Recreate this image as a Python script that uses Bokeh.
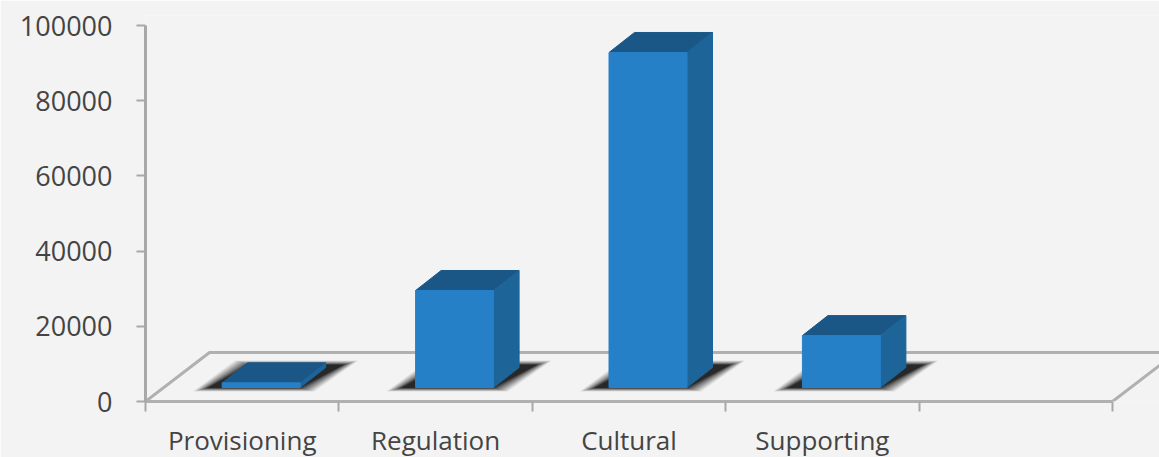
from bokeh.embed import file_html
from bokeh.models import (BasicTickFormatter, ColumnDataSource, FixedTicker, LinearAxis,
                          Range1d)
from bokeh.plotting import figure
from bokeh.resources import INLINE

# Benefit categories and their totals
categories = ["Provisioning", "Regulation", "Cultural", "Supporting"]
values = [1250, 25800, 89100, 13800]
y_ticks = [0, 20000, 40000, 60000, 80000, 100000]

WIDTH, HEIGHT = 1159, 457
LEFT, TOP, BOTTOM = 145, 15, 56
SLOT_PX = 193.4          # width of one category slot
VALUE_PX = 376 / 100000  # pixels per unit of value
SLOTS = 5

BG = "#f3f3f3"
FRONT, SIDE, CAP = "#2680c8", "#1d6499", "#1a5787"
AXIS, TEXT = "#a8a8a8", "#444444"
FONT = "Open Sans"


def dx(px):
    return px / SLOT_PX


def dy(px):
    return px / VALUE_PX


x_end = (WIDTH - LEFT) / SLOT_PX
y_end = (HEIGHT - BOTTOM - TOP) / VALUE_PX

p = figure(width=WIDTH, height=HEIGHT, output_backend="svg", toolbar_location=None,
           x_range=Range1d(0, x_end), y_range=Range1d(0, y_end),
           x_axis_location=None, y_axis_location=None,
           frame_width=WIDTH - LEFT, frame_height=HEIGHT - TOP - BOTTOM,
           min_border_left=LEFT, min_border_right=0, min_border_top=TOP,
           min_border_bottom=0, background_fill_color=BG, border_fill_color=BG,
           outline_line_color=None)
p.grid.visible = False

# Floor of the 3D box: back edge and the two receding sides
floor_x, floor_y = dx(64), dy(49)
p.line([0, floor_x, SLOTS + floor_x, SLOTS], [0, floor_y, floor_y, 0],
       line_color="#b0b0b0", line_width=3)

# Value axis
y_axis = LinearAxis(ticker=FixedTicker(ticks=y_ticks), bounds=(0, 100000),
                    formatter=BasicTickFormatter(use_scientific=False))
y_axis.axis_line_color = AXIS
y_axis.axis_line_width = 3
y_axis.major_tick_line_color = AXIS
y_axis.major_tick_line_width = 2
y_axis.major_tick_out = 9
y_axis.major_tick_in = 0
y_axis.minor_tick_line_color = None
y_axis.major_label_standoff = 24
y_axis.major_label_text_font = FONT
y_axis.major_label_text_font_size = "27px"
y_axis.major_label_text_color = TEXT
p.add_layout(y_axis, "left")

# Category names centred in their slots, with slot separators as minor ticks
label_ticks = [i + 0.5 for i in range(len(categories))]
x_axis = LinearAxis(ticker=FixedTicker(ticks=label_ticks, minor_ticks=list(range(SLOTS + 1))),
                    major_label_overrides=dict(zip(label_ticks, categories)),
                    bounds=(0, SLOTS))
x_axis.axis_line_color = "#b0b0b0"
x_axis.axis_line_width = 3
x_axis.major_tick_line_color = None
x_axis.minor_tick_line_color = AXIS
x_axis.minor_tick_line_width = 2
x_axis.minor_tick_out = 10
x_axis.minor_tick_in = 0
x_axis.major_label_standoff = 10
x_axis.major_label_text_font = FONT
x_axis.major_label_text_font_size = "26px"
x_axis.major_label_text_color = TEXT
p.add_layout(x_axis, "below")

# Bar geometry
base = dy(14)
half = dx(39)
shift = dx(19)
depth_x, depth_y = dx(25.5), dy(20)

# Soft cast shadows: stacked parallelograms whose opacity builds up evenly
LAYERS = 10
for layer in range(LAYERS):
    inset = layer * 1.6
    xs, ys = [], []
    for i in range(len(categories)):
        x0 = i + 0.5 + shift - half
        x1 = i + 0.5 + shift + half
        low, high = dy(10 + inset * 0.25), dy(41 - inset * 0.3)
        xs.append([x0 - dx(29 - inset), x1 + dx(14 - inset),
                   x1 + dx(58 - inset), x0 + dx(13 + inset)])
        ys.append([low, low, high, high])
    p.patches(xs, ys, fill_color="#262626", fill_alpha=0.9 / (LAYERS - layer), line_color=None)

# Bars: cap, side and front faces
cap_xs, cap_ys, side_xs, side_ys, front_xs, front_ys = [], [], [], [], [], []
for i, v in enumerate(values):
    x0 = i + 0.5 + shift - half
    x1 = i + 0.5 + shift + half
    top = base + v
    cap_xs.append([x0, x1, x1 + depth_x, x0 + depth_x])
    cap_ys.append([top, top, top + depth_y, top + depth_y])
    side_xs.append([x1, x1 + depth_x, x1 + depth_x, x1])
    side_ys.append([base, base + depth_y, top + depth_y, top])
    front_xs.append([x0, x1, x1, x0])
    front_ys.append([base, base, top, top])

for xs, ys, colour in ((cap_xs, cap_ys, CAP), (side_xs, side_ys, SIDE), (front_xs, front_ys, FRONT)):
    p.patches("xs", "ys", source=ColumnDataSource(dict(xs=xs, ys=ys)),
              fill_color=colour, line_color=colour, line_width=1)

open("out.html", "w").write(file_html(p, INLINE))
